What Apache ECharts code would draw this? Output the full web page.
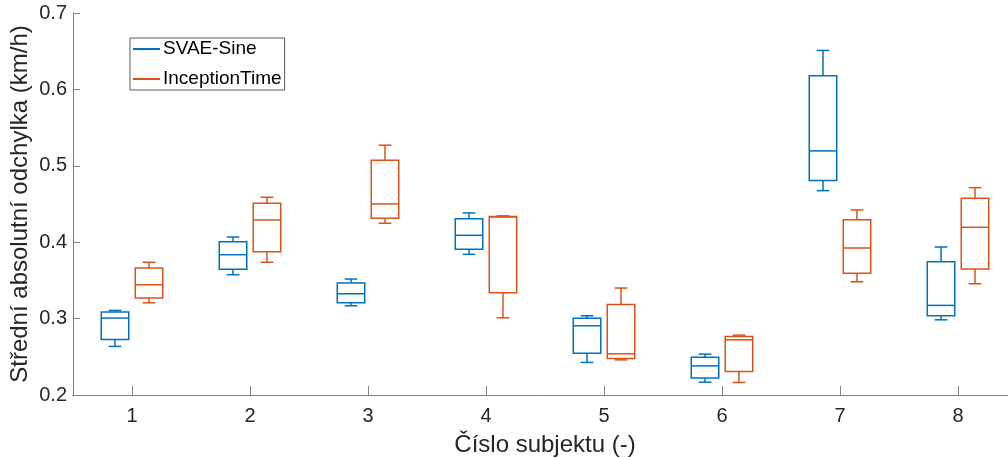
<!DOCTYPE html>
<html>
<head>
<meta charset="utf-8">
<script src="https://cdn.jsdelivr.net/npm/echarts@6/dist/echarts.min.js"></script>
<style>
html,body{margin:0;padding:0;background:#fff;}
#chart{width:1008px;height:458px;}
</style>
</head>
<body>
<div id="chart"></div>
<script>
// Categories (subject numbers)
const categories = ['1','2','3','4','5','6','7','8'];
// Box statistics per subject: [lower whisker, Q1, median, Q3, upper whisker]
const svaeSine = [
  [0.2636, 0.2727, 0.3007, 0.3085, 0.3107],
  [0.3574, 0.3645, 0.3836, 0.4007, 0.4068],
  [0.3168, 0.3207, 0.3325, 0.3467, 0.3518],
  [0.3841, 0.3907, 0.4090, 0.4308, 0.4383],
  [0.2426, 0.2548, 0.2906, 0.3003, 0.3037],
  [0.2168, 0.2224, 0.2381, 0.2495, 0.2535],
  [0.4675, 0.4806, 0.5195, 0.6178, 0.6510],
  [0.2984, 0.3037, 0.3173, 0.3744, 0.3937]
];
const inceptionTime = [
  [0.3207, 0.3269, 0.3443, 0.3662, 0.3737],
  [0.3737, 0.3876, 0.4291, 0.4510, 0.4588],
  [0.4248, 0.4313, 0.4501, 0.5073, 0.5270],
  [0.3010, 0.3338, 0.4330, 0.4335, 0.4345],
  [0.2460, 0.2478, 0.2539, 0.3186, 0.3400],
  [0.2164, 0.2308, 0.2722, 0.2767, 0.2784],
  [0.3482, 0.3592, 0.3924, 0.4295, 0.4422],
  [0.3456, 0.3649, 0.4195, 0.4575, 0.4714]
];
const seriesNames = ['SVAE-Sine', 'InceptionTime'];
const yTicks = [0.2, 0.3, 0.4, 0.5, 0.6, 0.7];

const BLUE = '#0072BD', ORANGE = '#D95319';

function toData(arr){ return arr.map((r, i) => [i].concat(r)); }

function makeRender(sign, color){
  return function(params, api){
    const idx = api.value(0);
    const band = api.size([1, 0])[0];
    const cx = api.coord([idx, 0.2])[0] + sign * band * 0.144;
    const hw = band * 0.1165;
    const cw = band * 0.054;
    const y = k => api.coord([idx, api.value(k)])[1];
    const yl = y(1), yq1 = y(2), ym = y(3), yq3 = y(4), yh = y(5);
    const style = {stroke: color, fill: null, lineWidth: 1.5};
    return {type: 'group', children: [
      {type: 'rect', shape: {x: cx - hw, y: yq3, width: 2 * hw, height: yq1 - yq3}, style: style},
      {type: 'line', shape: {x1: cx - hw, y1: ym, x2: cx + hw, y2: ym}, style: style},
      {type: 'line', shape: {x1: cx, y1: yq3, x2: cx, y2: yh}, style: style},
      {type: 'line', shape: {x1: cx, y1: yq1, x2: cx, y2: yl}, style: style},
      {type: 'line', shape: {x1: cx - cw, y1: yh, x2: cx + cw, y2: yh}, style: style},
      {type: 'line', shape: {x1: cx - cw, y1: yl, x2: cx + cw, y2: yl}, style: style}
    ]};
  };
}

const chart = echarts.init(document.getElementById('chart'), null, {renderer: 'canvas'});
const FONT = '"Liberation Sans", Arial, Helvetica, sans-serif';
chart.setOption({
  animation: false,
  backgroundColor: '#ffffff',
  textStyle: {fontFamily: FONT},
  grid: {left: 73, top: 13, right: -9, bottom: 63, containLabel: false, outerBoundsMode: 'none'},
  legend: {
    orient: 'vertical',
    left: 130, top: 38,
    padding: [1, 3, 1, 3],
    itemGap: 10,
    itemWidth: 27, itemHeight: 2,
    icon: 'rect',
    borderColor: '#5a5a5a', borderWidth: 1,
    backgroundColor: '#fff',
    textStyle: {fontFamily: FONT, fontSize: 19, color: '#000', lineHeight: 20, padding: [0, 0, 0, -2]},
    data: seriesNames
  },
  xAxis: {
    type: 'category',
    data: categories,
    boundaryGap: true,
    name: 'Číslo subjektu (-)',
    nameLocation: 'middle',
    nameGap: 38,
    nameMoveOverlap: false,
    nameTextStyle: {fontFamily: FONT, fontSize: 24, color: '#262626'},
    axisLine: {show: true, lineStyle: {color: '#808080', width: 1}},
    axisTick: {show: true, inside: true, alignWithLabel: true, length: 9, lineStyle: {color: '#808080'}},
    axisLabel: {fontFamily: FONT, fontSize: 20, color: '#262626', margin: 11},
    splitLine: {show: false}
  },
  yAxis: {
    type: 'value',
    min: yTicks[0], max: yTicks[yTicks.length - 1], interval: 0.1,
    name: 'Střední absolutní odchylka (km/h)',
    nameLocation: 'middle',
    nameGap: 41,
    nameMoveOverlap: false,
    nameTextStyle: {fontFamily: FONT, fontSize: 24, color: '#262626'},
    axisLine: {show: true, lineStyle: {color: '#808080', width: 1}},
    axisTick: {show: true, inside: true, length: 7, lineStyle: {color: '#808080'}},
    axisLabel: {fontFamily: FONT, fontSize: 20, color: '#262626', margin: 6,
      formatter: v => String(Math.round(v * 10) / 10)},
    splitLine: {show: false}
  },
  series: [
    {name: seriesNames[0], type: 'custom', itemStyle: {color: BLUE},
     encode: {x: 0, y: [1, 2, 3, 4, 5]}, data: toData(svaeSine), renderItem: makeRender(-1, BLUE)},
    {name: seriesNames[1], type: 'custom', itemStyle: {color: ORANGE},
     encode: {x: 0, y: [1, 2, 3, 4, 5]}, data: toData(inceptionTime), renderItem: makeRender(1, ORANGE)}
  ]
});
</script>
</body>
</html>
